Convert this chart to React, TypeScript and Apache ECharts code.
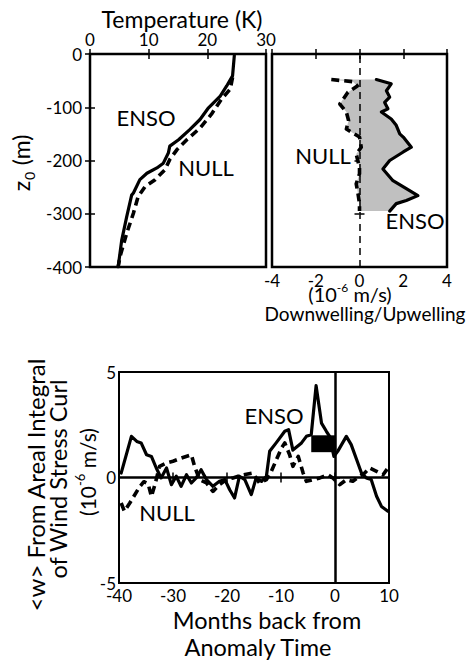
import React, { useEffect, useRef } from "react";
import * as echarts from "echarts";

// ---- Top-left: temperature profiles (Temperature K vs depth m)
const leftEnsoT = [24.6, 24.3, 23.3, 22.2, 20.2, 18.75, 17.0, 15.1, 13.6, 13.35, 12.5, 11.4, 9.7, 8.5, 7.4, 7.1, 6.25, 5.4, 4.8];
const leftEnsoZ = [-3, -41, -60, -79, -101, -123, -142, -161, -173, -186, -205, -214, -224, -236, -261, -265, -306, -350, -400];
const leftNullT = [24.3, 23.9, 22.4, 20.7, 18.75, 16.5, 14.8, 13.6, 12.8, 11.1, 9.4, 8.2, 7.4, 6.25, 5.1, 4.8];
const leftNullZ = [-44, -66, -85, -113, -139, -161, -180, -198, -217, -236, -249, -268, -299, -337, -381, -400];

// ---- Top-right: downwelling/upwelling profiles (1e-6 m/s vs depth m)
const rightEnsoW = [0.77, 1.45, 1.23, 1.38, 1.15, 1.3, 1.0, 1.45, 1.68, 1.84, 2.0, 2.37, 2.0, 1.38, 1.07, 1.53, 2.14, 2.67, 2.14, 1.68, 1.38];
const rightEnsoZ = [-48, -56, -69, -81, -91, -103, -109, -122, -134, -150, -156, -175, -184, -200, -216, -238, -253, -266, -275, -281, -295];
const rightNullW = [-1.29, -0.3, -0.1, -0.53, -0.9, -0.6, -0.5, -0.6, 0.0, 0.08, -0.15, 0.0, 0.0, -0.15, -0.07, 0.0, 0.0];
const rightNullZ = [-48, -52, -60, -72, -94, -109, -125, -141, -156, -175, -188, -213, -225, -244, -262, -281, -295];

// ---- Bottom: <w> time series (months vs 1e-6 m/s)
const ensoMonths = [-39.6, -37.7, -36.7, -35.9, -34.9, -34.0, -33.1, -32.2, -31.2, -30.3, -29.4, -28.5, -27.5, -26.6, -25.7, -24.8, -23.8, -22.6, -21.4, -20.4, -19.5, -18.6, -17.7, -16.7, -15.5, -14.6, -13.6, -12.7, -12.1, -10.9, -9.3, -8.6, -7.8, -6.2, -5.3, -4.4, -3.5, -2.5, -1.6, -1.0, -0.2, 0.5, 2.1, 3.0, 4.0, 4.9, 5.8, 6.7, 7.7, 8.6, 9.8];
const ensoValues = [0.21, 1.95, 1.71, 1.64, 1.08, 1.0, 0.45, -0.02, 0.45, -0.34, 0.06, -0.42, 0.13, -0.26, -0.02, 0.37, -0.1, -0.42, -0.18, -0.1, -0.58, -0.97, 0.06, -0.1, -0.81, -0.02, -0.18, 0.06, 1.24, 1.64, 2.19, 2.27, 1.3, 1.64, 1.95, 2.03, 4.35, 2.58, 2.19, 1.95, 1.0, 1.24, 1.95, 1.56, 0.85, 0.21, -0.02, -0.1, -0.89, -1.37, -1.6];
const nullMonths = [-39.6, -39.0, -38.0, -36.2, -35.4, -34.6, -34.0, -33.3, -32.5, -31.2, -30.0, -28.5, -26.6, -26.0, -25.1, -23.8, -22.6, -21.4, -20.1, -18.9, -17.0, -15.2, -14.0, -12.7, -11.8, -9.9, -9.3, -8.4, -7.8, -6.8, -5.9, -5.3, -4.1, -2.8, -1.3, -0.4, 0.9, 2.1, 3.3, 4.6, 5.5, 6.4, 7.7, 8.9, 9.8];
const nullValues = [-1.21, -1.6, -1.21, -0.45, -0.2, -0.3, -0.9, -0.3, 0.53, 0.69, 0.77, 0.92, 1.08, 0.53, -0.1, -0.26, -0.66, -0.34, -0.1, -0.02, 0.13, 0.21, -0.26, -0.1, 0.29, 1.4, 1.64, 1.08, 0.53, 1.0, 0.21, -0.18, -0.1, -0.02, 0.13, -0.02, -0.34, -0.1, -0.18, 0.06, 0.21, 0.45, 0.29, 0.13, 0.45];
const boxMonths = [-4.4, 0];
const boxValues = [1.2, 2.0];

const zip = (a: number[], b: number[]) => a.map((v, i) => [v, b[i]]);

const FONT = "Lato";
const BLACK = "#000";

export default function App() {
  const ref = useRef<HTMLDivElement>(null);
  useEffect(() => {
    if (!ref.current) return;
    const chart = echarts.init(ref.current, null, { renderer: "svg" });

    const tick = { show: true, inside: true, length: 5, lineStyle: { color: BLACK, width: 1.5 } };
    const label = { color: BLACK, fontSize: 17, fontFamily: FONT };
    const base = { axisLine: { show: false }, splitLine: { show: false }, axisTick: tick };
    const noLabel = { ...base, axisLabel: { show: false } };

    const solid = { color: BLACK, width: 3.2, type: "solid" as const, join: "round" as const, cap: "round" as const };
    const dashed = { color: BLACK, width: 3.6, type: [8, 5] as any, join: "round" as const };

    const greyPoly = zip(rightEnsoW, rightEnsoZ).concat(zip(rightNullW, rightNullZ).reverse());

    const t = (text: string, x: number, y: number, size: number, rotation = 0) => ({
      type: "text", x, y, rotation,
      style: { text, font: `${size}px ${FONT}`, fill: BLACK, align: "center", verticalAlign: "middle" },
    });
    const supText = (x: number, y: number, size: number, rotation = 0) => ({
      type: "text", x, y, rotation,
      style: {
        text: "{a|(10}{s|-6}{a| m/s)}", align: "center", verticalAlign: "middle", fill: BLACK,
        rich: {
          a: { fontSize: size, fontFamily: FONT, fill: BLACK, lineHeight: size + 6, verticalAlign: "middle" },
          s: { fontSize: Math.round(size * 0.62), fontFamily: FONT, fill: BLACK, verticalAlign: "top" },
        },
      },
    });

    const option: any = {
      animation: false,
      backgroundColor: "#fff",
      grid: [
        { left: 90, top: 54, width: 176, height: 213, show: true, borderColor: BLACK, borderWidth: 2.5, backgroundColor: "transparent" },
        { left: 272, top: 54, width: 175, height: 213, show: true, borderColor: BLACK, borderWidth: 2.5, backgroundColor: "transparent" },
        { left: 119, top: 372, width: 270, height: 211, show: true, borderColor: BLACK, borderWidth: 2, backgroundColor: "transparent" },
      ],
      xAxis: [
        { gridIndex: 0, type: "value", position: "top", min: 0, max: 30, interval: 10, ...base, axisLabel: { ...label, margin: 6 } },
        { gridIndex: 1, type: "value", position: "bottom", min: -4, max: 4, interval: 2, ...base, axisLabel: { ...label, margin: 5 } },
        { gridIndex: 2, type: "value", position: "bottom", min: -40, max: 10, interval: 10, ...base, axisLabel: { ...label, margin: 4 } },
        { gridIndex: 0, type: "value", position: "bottom", min: 0, max: 30, interval: 10, ...noLabel },
        { gridIndex: 1, type: "value", position: "top", min: -4, max: 4, interval: 2, ...noLabel },
        { gridIndex: 2, type: "value", position: "top", min: -40, max: 10, interval: 10, ...noLabel },
      ],
      yAxis: [
        { gridIndex: 0, type: "value", position: "left", min: -400, max: 0, interval: 100, ...base, axisLabel: { ...label, margin: 8 } },
        { gridIndex: 1, type: "value", position: "left", min: -400, max: 0, interval: 100, ...noLabel },
        { gridIndex: 2, type: "value", position: "left", min: -5, max: 5, interval: 5, ...base, axisLabel: { ...label, margin: 3 } },
        { gridIndex: 0, type: "value", position: "right", min: -400, max: 0, interval: 100, ...noLabel },
        { gridIndex: 1, type: "value", position: "right", min: -400, max: 0, interval: 100, ...noLabel },
        { gridIndex: 2, type: "value", position: "right", min: -5, max: 5, interval: 5, ...noLabel },
      ],
      series: [
        { type: "line", xAxisIndex: 0, yAxisIndex: 0, data: zip(leftEnsoT, leftEnsoZ), showSymbol: false, lineStyle: solid, z: 5 },
        { type: "line", xAxisIndex: 0, yAxisIndex: 0, data: zip(leftNullT, leftNullZ), showSymbol: false, lineStyle: dashed, z: 5 },
        {
          type: "custom",
          xAxisIndex: 1,
          yAxisIndex: 1,
          data: [[0, 0]],
          z: 1,
          renderItem: (_p: any, api: any) => ({
            type: "polygon",
            shape: { points: greyPoly.map((pt) => api.coord(pt)) },
            style: { fill: "#c0c0c0", stroke: "none" },
          }),
        },
        { type: "line", xAxisIndex: 1, yAxisIndex: 1, data: zip(rightEnsoW, rightEnsoZ), showSymbol: false, lineStyle: solid, z: 5 },
        {
          type: "line",
          xAxisIndex: 1,
          yAxisIndex: 1,
          data: zip(rightNullW, rightNullZ),
          showSymbol: false,
          lineStyle: dashed,
          z: 5,
          markLine: {
            silent: true,
            symbol: "none",
            label: { show: false },
            lineStyle: { color: BLACK, width: 1.5, type: [7, 5] },
            data: [{ xAxis: 0 }],
          },
        },
        {
          type: "line",
          xAxisIndex: 2,
          yAxisIndex: 2,
          data: zip(ensoMonths, ensoValues),
          showSymbol: false,
          lineStyle: solid,
          z: 5,
          markLine: {
            silent: true,
            symbol: "none",
            label: { show: false },
            lineStyle: { color: BLACK, width: 2.5, type: "solid" },
            data: [{ xAxis: 0 }, { yAxis: 0 }],
          },
          markArea: {
            silent: true,
            itemStyle: { color: BLACK },
            data: [[{ coord: [boxMonths[0], boxValues[1]] }, { coord: [boxMonths[1], boxValues[0]] }]],
          },
        },
        { type: "line", xAxisIndex: 2, yAxisIndex: 2, data: zip(nullMonths, nullValues), showSymbol: false, lineStyle: dashed, z: 5 },
      ],
      graphic: [
        t("Temperature (K)", 182, 19, 23),
        t("z", 21, 186, 23, Math.PI / 2),
        t("0", 29, 176, 14, Math.PI / 2),
        t("(m)", 21, 150, 23, Math.PI / 2),
        t("ENSO", 146, 117, 22),
        t("NULL", 206, 167, 22),
        t("NULL", 323, 155, 22),
        t("ENSO", 415, 220, 22),
        supText(350, 294, 20),
        t("Downwelling/Upwelling", 365, 313, 19),
        t("ENSO", 274, 415, 22),
        t("NULL", 167, 512, 22),
        t("<w> From Areal Integral", 35, 485, 24, Math.PI / 2),
        t("of Wind Stress Curl", 58, 479, 23.5, Math.PI / 2),
        supText(87, 472, 21, Math.PI / 2),
        t("Months back from", 267, 620, 23.5),
        t("Anomaly Time", 258, 647, 23.5),
      ],
    };
    chart.setOption(option);
    return () => chart.dispose();
  }, []);
  return <div ref={ref} style={{ position: "absolute", left: 0, top: 0, width: 468, height: 660, background: "#fff" }} />;
}
